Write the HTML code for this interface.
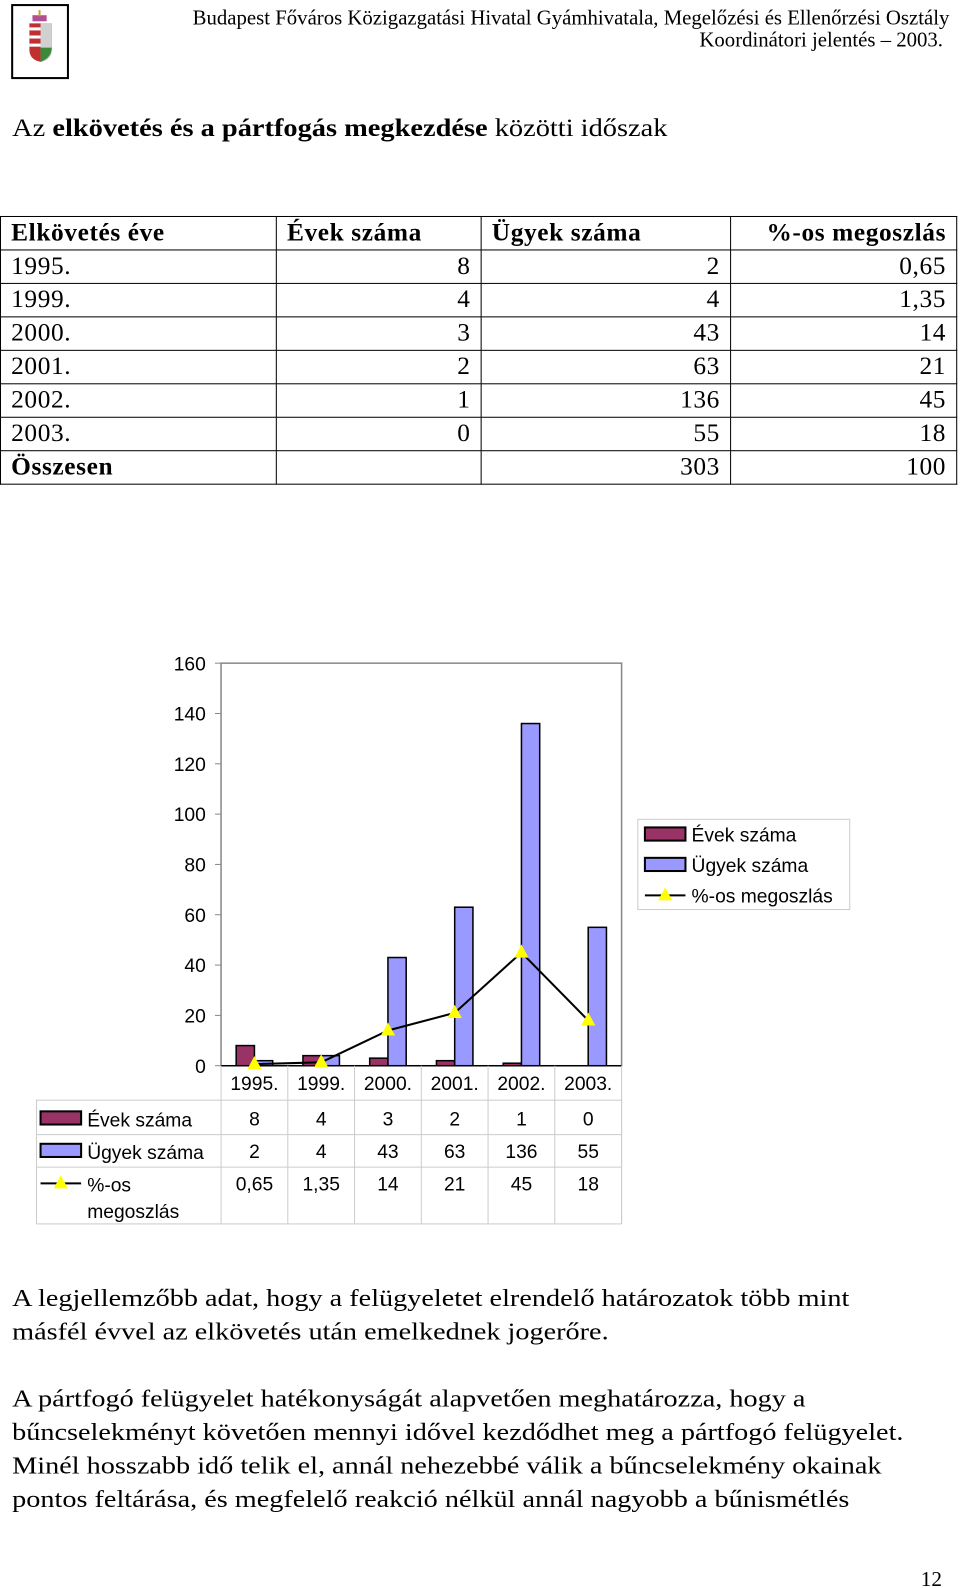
<!DOCTYPE html>
<html style="overflow:hidden;width:960px;height:1588px"><head><meta charset="utf-8">
<style>
body{margin:0;width:960px;height:1588px;background:#fff;position:relative;font-family:"Liberation Serif",serif;color:#000;overflow:hidden}
#wrap{position:absolute;left:0;top:0;width:960px;height:1588px;transform:scale(1.014);transform-origin:0 0}
.abs{position:absolute}
.hdr{left:190px;width:740px;text-align:right;font-size:20.5px;line-height:22px;top:7px;white-space:nowrap}
table.t{position:absolute;left:0;top:213px;border-collapse:collapse;font-size:25px;letter-spacing:0.6px;width:944px;table-layout:fixed}
table.t td{border:1px solid #000;height:32px;padding:0 10px;line-height:32px;white-space:nowrap;overflow:hidden}
table.t td.r{text-align:right}
p{position:absolute;left:12px;margin:0;font-size:24px;line-height:33px;white-space:nowrap;transform:scaleX(1.16);transform-origin:0 0}
svg text{font-family:"Liberation Sans",sans-serif}
</style></head><body><div id="wrap">
<div class="abs" style="left:11px;top:4px;width:57px;height:74px;border:2px solid #000;box-sizing:border-box">
<svg width="53" height="70"><rect x="19" y="9" width="14" height="6" fill="#b05090"/><rect x="25" y="4" width="2" height="6" fill="#c9a030"/><path d="M16 17 h22 v26 q0 10 -11 12 q-11 -2 -11 -12z" fill="#c03030"/><path d="M27 17 h11 v26 q0 10 -11 12z" fill="#d0d0d0"/><path d="M27 41 h11 q0 10 -11 14z" fill="#3a8a3a"/><rect x="16" y="21" width="11" height="3" fill="#fff"/><rect x="16" y="29" width="11" height="3" fill="#fff"/><rect x="16" y="37" width="11" height="3" fill="#fff"/></svg></div>
<div class="abs hdr">Budapest Főváros Közigazgatási Hivatal Gyámhivatala, Megelőzési és Ellenőrzési Osztály<br>Koordinátori jelentés – 2003.</div>
<div class="abs" style="left:12px;top:113px;font-size:25px;transform:scaleX(1.12);transform-origin:0 0;white-space:nowrap">Az <b>elkövetés és a pártfogás megkezdése</b> közötti időszak</div>
<table class="t">
<tr><td style="width:251px"><b>Elkövetés éve</b></td><td style="width:181px"><b>Évek száma</b></td><td style="width:225px"><b>Ügyek száma</b></td><td class="r"><b>%-os megoszlás</b></td></tr>
<tr><td>1995.</td><td class="r">8</td><td class="r">2</td><td class="r">0,65</td></tr>
<tr><td>1999.</td><td class="r">4</td><td class="r">4</td><td class="r">1,35</td></tr>
<tr><td>2000.</td><td class="r">3</td><td class="r">43</td><td class="r">14</td></tr>
<tr><td>2001.</td><td class="r">2</td><td class="r">63</td><td class="r">21</td></tr>
<tr><td>2002.</td><td class="r">1</td><td class="r">136</td><td class="r">45</td></tr>
<tr><td>2003.</td><td class="r">0</td><td class="r">55</td><td class="r">18</td></tr>
<tr><td><b>Összesen</b></td><td></td><td class="r">303</td><td class="r">100</td></tr>
</table>
<svg id="chart" class="abs" style="left:0;top:600px" width="960" height="640" viewBox="0 600 960 640"></svg>
<p style="top:1265px">A legjellemzőbb adat, hogy a felügyeletet elrendelő határozatok több mint<br>másfél évvel az elkövetés után emelkednek jogerőre.</p>
<p style="top:1364px">A pártfogó felügyelet hatékonyságát alapvetően meghatározza, hogy a<br>bűncselekményt követően mennyi idővel kezdődhet meg a pártfogó felügyelet.<br>Minél hosszabb idő telik el, annál nehezebbé válik a bűncselekmény okainak<br>pontos feltárása, és megfelelő reakció nélkül annál nagyobb a bűnismétlés</p>
<div class="abs" style="left:908px;top:1545px;font-size:21px">12</div>
</div>
<script>
const categories=["1995.","1999.","2000.","2001.","2002.","2003."];
const evek=[8,4,3,2,1,0];
const ugyek=[2,4,43,63,136,55];
const szazalek=[0.65,1.35,14,21,45,18];
const szazalekLabels=["0,65","1,35","14","21","45","18"];
const yTicks=[0,20,40,60,80,100,120,140,160];
const NS="http://www.w3.org/2000/svg",svg=document.getElementById('chart');
const X0=218,X1=613,Y0=1051,Y1=654,cw=(X1-X0)/categories.length;
const y=v=>Y0-(v/160)*(Y0-Y1), xc=i=>X0+cw*(i+0.5);
function mk(t,a,p){const e=document.createElementNS(NS,t);for(const k in a)e.setAttribute(k,a[k]);(p||svg).appendChild(e);return e;}
function tx(s,x,yy,anchor,sz){const e=mk('text',{x:x,y:yy,'text-anchor':anchor||'middle','font-size':sz||19});e.textContent=s;return e;}
let e=mk('rect',{x:X0,y:Y1,width:X1-X0,height:Y0-Y1,fill:'none',stroke:'#888','stroke-width':1.5});

yTicks.forEach(t=>{mk('line',{x1:X0-6,x2:X0,y1:y(t),y2:y(t),stroke:'#888'});
e=tx(String(t),203,y(t)+7,'end');});
categories.forEach((c,i)=>{
e=mk('rect',{x:xc(i)-18,y:y(evek[i]),width:18,height:Y0-y(evek[i]),fill:'#993366',stroke:'#000','stroke-width':1.5});

e=mk('rect',{x:xc(i),y:y(ugyek[i]),width:18,height:Y0-y(ugyek[i]),fill:'#9999ff',stroke:'#000','stroke-width':1.5});

e=tx(c,xc(i),1075);
});
mk('line',{x1:X0,x2:X1,y1:Y0,y2:Y0,stroke:'#000','stroke-width':1.5});
e=mk('polyline',{points:szazalek.map((v,i)=>xc(i)+','+y(v)).join(' '),fill:'none',stroke:'#000','stroke-width':2});

function tri(cx,cy){return mk('polygon',{points:`${cx},${cy-8} ${cx-7},${cy+5} ${cx+7},${cy+5}`,fill:'#ffff00'});}
szazalek.forEach((v,i)=>{e=tri(xc(i),y(v));});
mk('rect',{x:36,y:1085,width:X1-36,height:1207-1085,fill:'none',stroke:'#ccc'});
[1119,1151].forEach(v=>mk('line',{x1:36,x2:X1,y1:v,y2:v,stroke:'#ccc'}));
for(let i=0;i<=categories.length;i++)mk('line',{x1:X0+cw*i,x2:X0+cw*i,y1:1051,y2:1207,stroke:'#ccc'});
const rows=[evek.map(String),ugyek.map(String),szazalekLabels];
rows.forEach((r,ri)=>r.forEach((s,i)=>{e=tx(s,xc(i),[1110,1142,1174][ri]);}));
function key(x,yy,k){if(k<2)mk('rect',{x:x,y:yy-7,width:40,height:13,fill:k?'#9999ff':'#993366',stroke:'#000','stroke-width':2});
else{mk('line',{x1:x,x2:x+40,y1:yy,y2:yy,stroke:'#000','stroke-width':2});tri(x+20,yy);}}
key(40,1103,0);tx('Évek száma',86,1111,'start');
key(40,1135,1);tx('Ügyek száma',86,1143,'start');
key(40,1167,2);tx('%-os',86,1175,'start');tx('megoszlás',86,1201,'start');
e=mk('rect',{x:629,y:808,width:209,height:89,fill:'#fff',stroke:'#ccc'});
const ln=['Évek száma','Ügyek száma','%-os megoszlás'];
ln.forEach((s,k)=>{key(636,823+k*30,k);e=tx(s,682,830+k*30,'start');});
</script>
</body></html>
